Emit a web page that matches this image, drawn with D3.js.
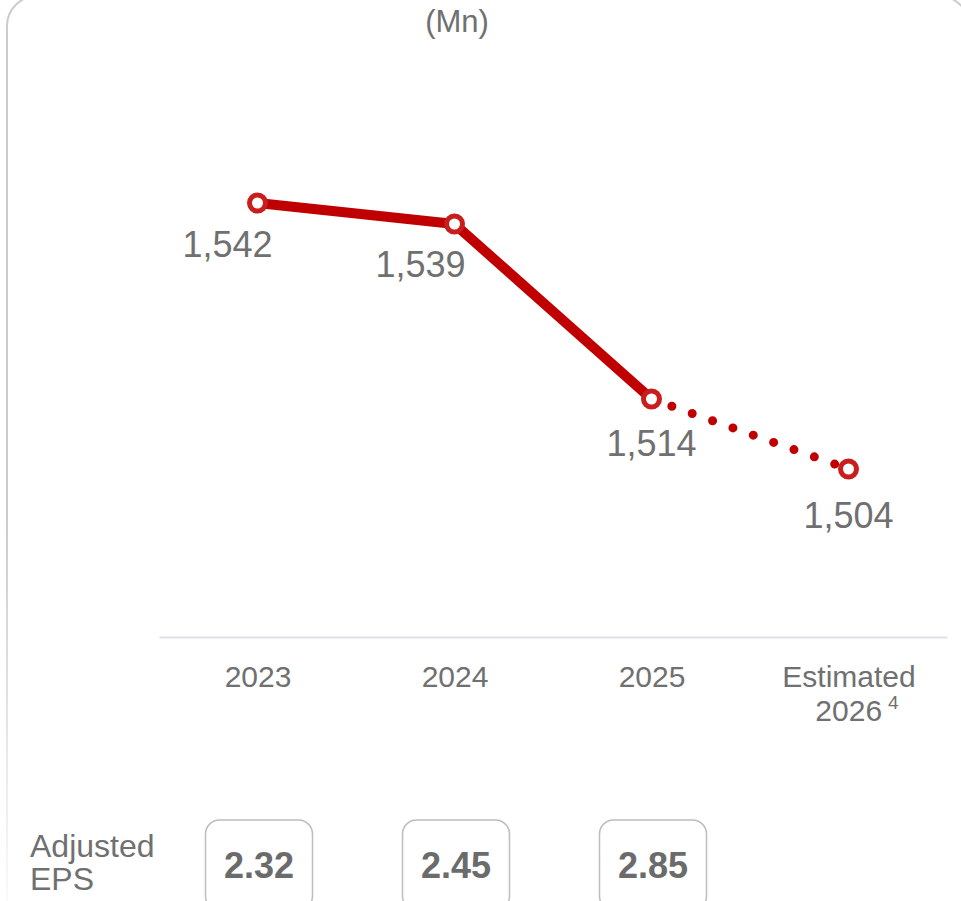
<!DOCTYPE html>
<html>
<head>
<meta charset="utf-8">
<script src="https://cdn.jsdelivr.net/npm/d3@7/dist/d3.min.js"></script>
<style>
  html, body { margin: 0; padding: 0; background: #ffffff; }
  svg { display: block; font-family: "Liberation Sans", Arial, Helvetica, sans-serif; }
</style>
</head>
<body>
<div id="chart"></div>
<script>
// Weighted average diluted shares outstanding, millions
const years = ["2023", "2024", "2025", "Estimated 2026"];
const shares = [1542, 1539, 1514, 1504];
const reportedCount = 3;               // the last year is an estimate
const epsValues = [2.32, 2.45, 2.85];  // adjusted EPS for reported years
const unitLabel = "(Mn)";
const epsLabelLines = ["Adjusted", "EPS"];
const footnoteMark = "4";

const W = 961, H = 901;
const red = "#c00000";
const markerRed = "#c81e1e";
const textGray = "#707070";

const svg = d3.select("#chart").append("svg")
  .attr("width", W).attr("height", H);

// Card outline that fades out toward the bottom
const defs = svg.append("defs");
const grad = defs.append("linearGradient")
  .attr("id", "cardFade").attr("x1", 0).attr("y1", 0).attr("x2", 0).attr("y2", 1);
grad.append("stop").attr("offset", "0%").attr("stop-color", "#cccccc").attr("stop-opacity", 1);
grad.append("stop").attr("offset", "55%").attr("stop-color", "#cccccc").attr("stop-opacity", 1);
grad.append("stop").attr("offset", "95%").attr("stop-color", "#cccccc").attr("stop-opacity", 0.08);
svg.append("rect")
  .attr("x", 7).attr("y", -4).attr("width", 962).attr("height", 960)
  .attr("rx", 30).attr("ry", 30)
  .attr("fill", "none").attr("stroke", "url(#cardFade)").attr("stroke-width", 2);

// Scales
const x = d3.scalePoint().domain(years).range([159, 947]).padding(0.5);
const y = d3.scaleLinear().domain([1480, 1560]).range([637, 77]);

// Unit label
svg.append("text")
  .attr("x", 457).attr("y", 32)
  .attr("text-anchor", "middle")
  .attr("font-size", 31).attr("fill", textGray)
  .text(unitLabel);

// X axis
const axisG = svg.append("g")
  .attr("transform", `translate(0,${y.range()[0]})`)
  .call(d3.axisBottom(x).tickSize(0).tickPadding(29));
axisG.select(".domain").attr("stroke", "#dfe1e8").attr("stroke-width", 2);
axisG.selectAll(".tick text")
  .attr("font-size", 30).attr("fill", textGray)
  .attr("font-family", "\"Liberation Sans\", Arial, sans-serif")
  .each(function (d) {
    const parts = d.split(" ");
    if (parts.length > 1) {
      const t = d3.select(this).text(null);
      t.append("tspan").attr("x", 0).text(parts[0]);
      // second line carries the raised footnote marker; shifted so the year stays centred
      t.append("tspan").attr("x", 8).attr("dy", "1.13em").text(parts[1]);
      t.append("tspan")
        .attr("dx", 6).attr("dy", "-0.62em")
        .attr("font-size", 19)
        .text(footnoteMark);
    }
  });

const pts = years.map((yr, i) => ({ yr, v: shares[i], i }));
const reported = pts.slice(0, reportedCount);
const projected = pts.slice(reportedCount - 1);

const line = d3.line().x(d => x(d.yr)).y(d => y(d.v));

// Reported trend: solid
svg.append("path")
  .datum(reported)
  .attr("d", line)
  .attr("fill", "none").attr("stroke", red)
  .attr("stroke-width", 10).attr("stroke-linejoin", "round");

// Estimate: dotted
svg.append("path")
  .datum(projected)
  .attr("d", line)
  .attr("fill", "none").attr("stroke", red)
  .attr("stroke-width", 9).attr("stroke-linecap", "round")
  .attr("stroke-dasharray", "0 21.6");

// Point markers
svg.append("g").selectAll("circle")
  .data(pts).join("circle")
  .attr("cx", d => x(d.yr)).attr("cy", d => y(d.v))
  .attr("r", 8)
  .attr("fill", "#ffffff").attr("stroke", markerRed).attr("stroke-width", 5);

// Value labels below each point
const labelShift = [[-30, 54], [-34, 53], [0, 57], [0, 59]];
const fmt = d3.format(",");
svg.append("g").selectAll("text")
  .data(pts).join("text")
  .attr("x", d => x(d.yr) + labelShift[d.i][0])
  .attr("y", d => y(d.v) + labelShift[d.i][1])
  .attr("text-anchor", "middle")
  .attr("font-size", 36).attr("fill", textGray)
  .text(d => fmt(d.v));

// Adjusted EPS row
const epsLabel = svg.append("text")
  .attr("x", 30).attr("y", 857)
  .attr("font-size", 32).attr("fill", textGray);
epsLabel.selectAll("tspan").data(epsLabelLines).join("tspan")
  .attr("x", 30).attr("dy", (d, i) => i === 0 ? 0 : "1.04em")
  .text(d => d);

const epsG = svg.append("g").selectAll("g")
  .data(epsValues).join("g")
  .attr("transform", (d, i) => `translate(${x(years[i]) + 1.5},0)`);
epsG.append("rect")
  .attr("x", -53.5).attr("y", 820).attr("width", 107).attr("height", 90)
  .attr("rx", 14).attr("ry", 14)
  .attr("fill", "#ffffff").attr("stroke", "#bdbdbd").attr("stroke-width", 1.5);
epsG.append("text")
  .attr("x", 0).attr("y", 878)
  .attr("text-anchor", "middle")
  .attr("font-size", 36).attr("font-weight", "bold").attr("fill", "#6b6b6b")
  .text(d => d3.format(".2f")(d));
</script>
</body>
</html>
